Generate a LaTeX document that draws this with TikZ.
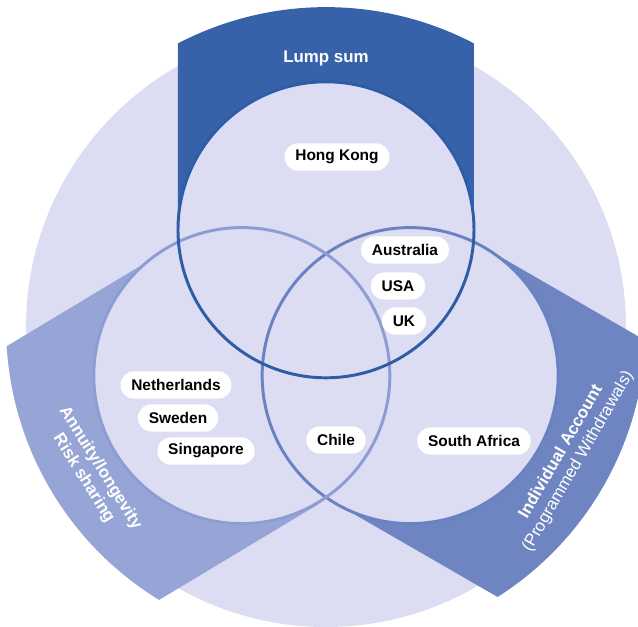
\documentclass[tikz,border=0pt]{standalone}
\usepackage{fontspec}
\setmainfont{Liberation Sans}
\usepackage{tikz}

\definecolor{backlilac}{HTML}{DCDDF2}
\definecolor{lumpblue}{HTML}{3762A9}
\definecolor{annuityblue}{HTML}{97A4D6}
\definecolor{accountblue}{HTML}{6F85C2}
\definecolor{lumpline}{HTML}{2F5CA6}
\definecolor{annuityline}{HTML}{8D9DD3}
\definecolor{accountline}{HTML}{6A82C2}

\begin{document}
\begin{tikzpicture}[
	country/.style={fill=white, rounded corners=0.33cm, minimum height=0.68cm, inner xsep=0.27cm, font=\fontsize{11}{13}\selectfont\bfseries},
	bandtext/.style={text=white, align=center, font=\fontsize{12}{14}\selectfont\bfseries}]
	\useasboundingbox (-8.15,-7.5) rectangle (7.8,8.175);
	% background disc
	\fill[backlilac] (0,0) circle (7.5);
	% bands
	\fill[lumpblue, rotate=90] (2.43,3.7) -- (7.09,3.7) arc[start angle=27.55, end angle=-27.55, radius=8] -- (2.43,-3.7) -- cycle;
	\fill[annuityblue, rotate=211] (2.43,3.7) -- (7.09,3.7) arc[start angle=27.55, end angle=-27.55, radius=8] -- (2.43,-3.7) -- cycle;
	\fill[accountblue, rotate=330] (2.43,3.7) -- (7.09,3.7) arc[start angle=27.55, end angle=-27.55, radius=8] -- (2.43,-3.7) -- cycle;
	% circles
	\fill[backlilac] (90:2.43) circle (3.7);
	\fill[backlilac] (210:2.43) circle (3.7);
	\fill[backlilac] (330:2.43) circle (3.7);
	\draw[accountline, line width=2.1pt] (330:2.43) circle (3.7);
	\draw[annuityline, line width=2.1pt] (210:2.43) circle (3.7);
	\draw[lumpline, line width=2.1pt] (90:2.43) circle (3.7);
	% band labels
	\node[bandtext] (lumpsum) at (90:6.72) {Lump sum};
	\node[bandtext, rotate=-58] (annuity) at (212:6.9) {Annuity/longevity\\Risk sharing};
	\node[bandtext, rotate=60] (account) at (332:6.9) {Individual Account\\{\mdseries(Programmed Withdrawals)}};
	% countries
	\node[country] (hongkong) at (0.275,4.25) {Hong Kong};
	\node[country] (australia) at (1.975,1.925) {Australia};
	\node[country] (usa) at (1.8,1.025) {USA};
	\node[country] (uk) at (1.95,0.15) {UK};
	\node[country] (chile) at (0.25,-2.825) {Chile};
	\node[country] (southafrica) at (3.7,-2.85) {South Africa};
	\node[country] (netherlands) at (-3.75,-1.45) {Netherlands};
	\node[country] (sweden) at (-3.7,-2.275) {Sweden};
	\node[country] (singapore) at (-3.0,-3.1) {Singapore};
\end{tikzpicture}
\end{document}
